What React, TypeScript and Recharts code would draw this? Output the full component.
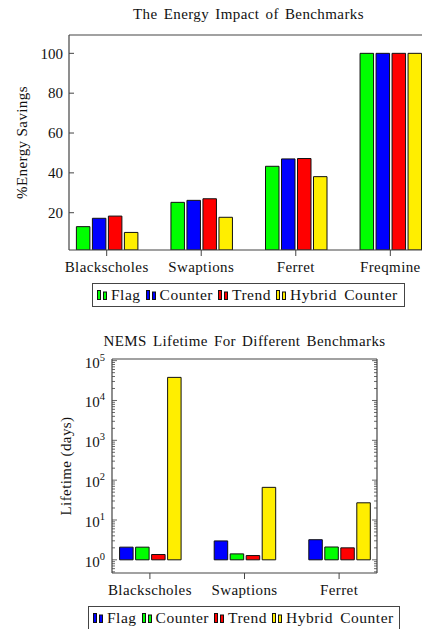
import { Bar, BarChart, XAxis, YAxis } from "recharts";

const FONT = "'Liberation Serif', 'Times New Roman', serif";
const INK = "#111";
const AXIS = "#444";
const GREEN = "#00ff00";
const BLUE = "#0000ff";
const RED = "#ff0000";
const YELLOW = "#ffee00";

// chart 1: energy savings
const energyCategories = ["Blackscholes", "Swaptions", "Ferret", "Freqmine"];
const energyFlag = [13, 25.2, 43.3, 100];
const energyCounter = [17.2, 26.2, 47, 100];
const energyTrend = [18.3, 27, 47.2, 100];
const energyHybrid = [10.1, 17.7, 38.1, 100];
const energyTicks = [20, 40, 60, 80, 100];

// chart 2: lifetime (log scale, bars start at 10^0)
const lifeCategories = ["Blackscholes", "Swaptions", "Ferret"];
const lifeFlag = [2.08, 2.98, 3.2];
const lifeCounter = [2.08, 1.41, 2.1];
const lifeTrend = [1.36, 1.28, 2.0];
const lifeHybrid = [38000, 66, 27];
const lifeBase = 1;
const lifeMajorTicks = [1, 10, 100, 1000, 10000, 100000];
const lifeMinorTicks = [0.5, 0.6, 0.7, 0.8, 0.9].concat(
  lifeMajorTicks.slice(0, 5).flatMap((d) => [2, 3, 4, 5, 6, 7, 8, 9].map((m) => m * d))
);

const energyData = energyCategories.map((name, i) => ({
  name,
  flag: energyFlag[i],
  counter: energyCounter[i],
  trend: energyTrend[i],
  hybrid: energyHybrid[i],
}));

const lifeData = lifeCategories.map((name, i) => ({
  name,
  flag: [lifeBase, lifeFlag[i]],
  counter: [lifeBase, lifeCounter[i]],
  trend: [lifeBase, lifeTrend[i]],
  hybrid: [lifeBase, lifeHybrid[i]],
}));

// layout of chart 1
const C1_LEFT = 69;
const C1_TOP = 35;
const C1_BOTTOM = 70;
// layout of chart 2
const C2_LEFT = 112;
const C2_RIGHT = 45;
const C2_TOP = 39;
const C2_BOTTOM = 56;

function CategoryTick(props: any) {
  const { x, y, payload } = props;
  return (
    <text
      x={x}
      y={y}
      dy="0.71em"
      textAnchor="middle"
      fontFamily={FONT}
      fontSize={15}
      fill={INK}
      letterSpacing={0.4}
    >
      {payload.value}
    </text>
  );
}

function EnergyTick(props: any) {
  const { y, payload } = props;
  return (
    <g>
      <line x1={C1_LEFT} x2={C1_LEFT + 5} y1={y} y2={y} stroke={AXIS} />
      <text x={C1_LEFT - 6} y={y} dy="0.35em" textAnchor="end" fontFamily={FONT} fontSize={15} fill={INK}>
        {payload.value}
      </text>
    </g>
  );
}

function isMajor(v: number) {
  const e = Math.log10(v);
  return Math.abs(e - Math.round(e)) < 1e-9;
}

function LifeLeftTick(props: any) {
  const { y, payload } = props;
  const v = payload.value as number;
  const major = isMajor(v);
  return (
    <g>
      <line x1={C2_LEFT} x2={C2_LEFT + (major ? 5 : 3)} y1={y} y2={y} stroke={AXIS} strokeWidth={0.8} />
      {major && (
        <text x={C2_LEFT - 7} y={y + 7} textAnchor="end" fontFamily={FONT} fontSize={15} fill={INK}>
          <tspan>10</tspan>
          <tspan dy={-7} fontSize={10.5}>
            {Math.round(Math.log10(v))}
          </tspan>
        </text>
      )}
    </g>
  );
}

function LifeRightTick(props: any) {
  const { y, payload } = props;
  const major = isMajor(payload.value);
  const x = 422 - C2_RIGHT;
  return <line x1={x} x2={x - (major ? 5 : 3)} y1={y} y2={y} stroke={AXIS} strokeWidth={0.8} />;
}

function LegendIcon({ color }: { color: string }) {
  return (
    <svg width={11} height={10} style={{ display: "block" }}>
      <rect x={0.5} y={0.5} width={3} height={9} fill={color} stroke={INK} strokeWidth={1} />
      <rect x={6.5} y={2} width={3} height={7.5} fill={color} stroke={INK} strokeWidth={1} />
    </svg>
  );
}

function LegendBox({
  items,
  left,
  top,
  width,
}: {
  items: { name: string; color: string }[];
  left: number;
  top: number;
  width: number;
}) {
  return (
    <div
      style={{
        position: "absolute",
        left,
        top,
        width,
        height: 24,
        boxSizing: "border-box",
        border: `1px solid ${AXIS}`,
        display: "flex",
        alignItems: "center",
        paddingLeft: 4,
        fontFamily: FONT,
        fontSize: 15.5,
        color: INK,
        whiteSpace: "nowrap",
      }}
    >
      {items.map((it) => (
        <span key={it.name} style={{ display: "flex", alignItems: "center", marginRight: 5 }}>
          <LegendIcon color={it.color} />
          <span style={{ marginLeft: 3, letterSpacing: 0.5, wordSpacing: 3, fontFamily: FONT }}>{it.name}</span>
        </span>
      ))}
    </div>
  );
}

function titleLabel(text: string, dy: number) {
  return {
    content: (p: any) => {
      const vb = p.viewBox || { x: 0, y: 0, width: 0 };
      return (
        <text
          x={vb.x + vb.width / 2}
          y={dy}
          textAnchor="middle"
          dominantBaseline="central"
          fontFamily={FONT}
          fontSize={15}
          fill={INK}
          letterSpacing={0.4}
          wordSpacing={2}
        >
          {text}
        </text>
      );
    },
  };
}

function yLabel(text: string, cx: number) {
  return {
    content: (p: any) => {
      const vb = p.viewBox || { y: 0, height: 0 };
      const cy = vb.y + vb.height / 2;
      return (
        <text
          x={cx}
          y={cy}
          transform={`rotate(-90, ${cx}, ${cy})`}
          textAnchor="middle"
          dominantBaseline="central"
          fontFamily={FONT}
          fontSize={15}
          fill={INK}
          letterSpacing={0.4}
        >
          {text}
        </text>
      );
    },
  };
}

export default function App() {
  return (
    <div
      style={{
        position: "absolute",
        left: 0,
        top: 0,
        width: 422,
        height: 629,
        overflow: "hidden",
        background: "#fff",
      }}
    >
      <div style={{ position: "absolute", left: 0, top: 0 }}>
        <BarChart
          width={440}
          height={320}
          data={energyData}
          margin={{ top: 0, right: 12, bottom: 0, left: 0 }}
          barSize={13.5}
          barGap={2.5}
        >
          <XAxis
            dataKey="name"
            height={C1_BOTTOM}
            padding={{ left: -9.6, right: -9.6 }}
            axisLine={{ stroke: AXIS, strokeWidth: 1.2 }}
            tickLine={{ stroke: AXIS }}
            tickSize={6}
            tickMargin={5}
            tick={(p: any) => <CategoryTick {...p} />}
            interval={0}
          />
          <XAxis
            xAxisId="top"
            orientation="top"
            dataKey="name"
            height={C1_TOP}
            padding={{ left: -9.6, right: -9.6 }}
            axisLine={{ stroke: AXIS, strokeWidth: 1.2 }}
            tickLine={{ stroke: AXIS }}
            tickSize={5}
            tick={false}
            interval={0}
            label={titleLabel("The Energy Impact of Benchmarks", 14)}
          />
          <YAxis
            type="number"
            width={C1_LEFT}
            domain={[1.28, 109.2]}
            allowDataOverflow
            ticks={energyTicks}
            interval={0}
            axisLine={{ stroke: AXIS, strokeWidth: 1.2 }}
            tickLine={false}
            tick={(p: any) => <EnergyTick {...p} />}
            label={yLabel("%Energy Savings", 22)}
          />
          <Bar dataKey="flag" fill={GREEN} stroke={INK} strokeWidth={1} isAnimationActive={false} />
          <Bar dataKey="counter" fill={BLUE} stroke={INK} strokeWidth={1} isAnimationActive={false} />
          <Bar dataKey="trend" fill={RED} stroke={INK} strokeWidth={1} isAnimationActive={false} />
          <Bar dataKey="hybrid" fill={YELLOW} stroke={INK} strokeWidth={1} isAnimationActive={false} />
        </BarChart>
      </div>
      <LegendBox
        left={92}
        top={283}
        width={313}
        items={[
          { name: "Flag", color: GREEN },
          { name: "Counter", color: BLUE },
          { name: "Trend", color: RED },
          { name: "Hybrid Counter", color: YELLOW },
        ]}
      />

      <div style={{ position: "absolute", left: 0, top: 320 }}>
        <BarChart
          width={422}
          height={309}
          data={lifeData}
          margin={{ top: 0, right: 0, bottom: 0, left: 0 }}
          barSize={13.5}
          barGap={2.5}
        >
          <XAxis
            dataKey="name"
            height={C2_BOTTOM}
            padding={{ left: -9.4, right: -9.4 }}
            axisLine={{ stroke: AXIS, strokeWidth: 1.2 }}
            tickLine={{ stroke: AXIS }}
            tickSize={6}
            tickMargin={5}
            tick={(p: any) => <CategoryTick {...p} />}
            interval={0}
          />
          <XAxis
            xAxisId="top"
            orientation="top"
            dataKey="name"
            height={C2_TOP}
            padding={{ left: -9.4, right: -9.4 }}
            axisLine={{ stroke: AXIS, strokeWidth: 1.2 }}
            tickLine={{ stroke: AXIS }}
            tickSize={5}
            tick={false}
            interval={0}
            label={titleLabel("NEMS Lifetime For Different Benchmarks", 20.7)}
          />
          <YAxis
            type="number"
            scale="log"
            width={C2_LEFT}
            domain={[0.467, 110000]}
            allowDataOverflow
            ticks={[...lifeMinorTicks, ...lifeMajorTicks]}
            interval={0}
            axisLine={{ stroke: AXIS, strokeWidth: 1.2 }}
            tickLine={false}
            tick={(p: any) => <LifeLeftTick {...p} />}
            label={yLabel("Lifetime (days)", 66)}
          />
          <YAxis
            yAxisId="right"
            orientation="right"
            type="number"
            scale="log"
            width={C2_RIGHT}
            domain={[0.467, 110000]}
            allowDataOverflow
            ticks={[...lifeMinorTicks, ...lifeMajorTicks]}
            interval={0}
            axisLine={{ stroke: AXIS, strokeWidth: 1.2 }}
            tickLine={false}
            tick={(p: any) => <LifeRightTick {...p} />}
          />
          <Bar dataKey="flag" fill={BLUE} stroke={INK} strokeWidth={1} isAnimationActive={false} />
          <Bar dataKey="counter" fill={GREEN} stroke={INK} strokeWidth={1} isAnimationActive={false} />
          <Bar dataKey="trend" fill={RED} stroke={INK} strokeWidth={1} isAnimationActive={false} />
          <Bar dataKey="hybrid" fill={YELLOW} stroke={INK} strokeWidth={1} isAnimationActive={false} />
        </BarChart>
      </div>
      <LegendBox
        left={88}
        top={606}
        width={312}
        items={[
          { name: "Flag", color: BLUE },
          { name: "Counter", color: GREEN },
          { name: "Trend", color: RED },
          { name: "Hybrid Counter", color: YELLOW },
        ]}
      />
    </div>
  );
}
